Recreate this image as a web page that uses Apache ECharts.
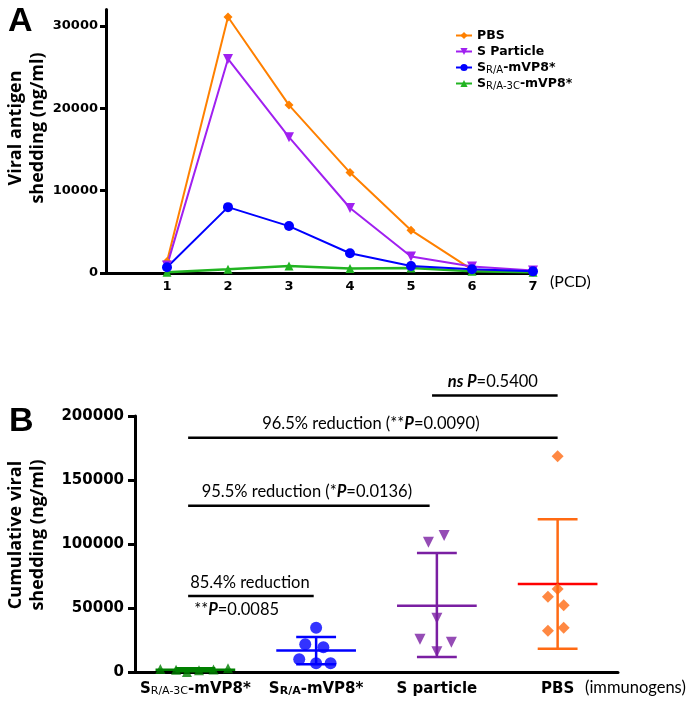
<!DOCTYPE html>
<html><head><meta charset="utf-8">
<script src="https://cdn.jsdelivr.net/npm/echarts@6/dist/echarts.min.js"></script>
<style>html,body{margin:0;padding:0;background:#fff}#c{width:690px;height:702px}</style>
</head><body><div id="c"></div>
<script>
// ---------- Panel A data ----------
const days = [1, 2, 3, 4, 5, 6, 7];
const dayTicks = [1, 2, 3, 4, 5, 6, 7];
const pbsA = [1400, 31100, 20400, 12200, 5200, 400, 200];
const sParticleA = [900, 26000, 16500, 7900, 2000, 800, 300];
const srA = [700, 8000, 5700, 2400, 850, 450, 200];
const sr3cA = [100, 450, 850, 550, 600, 200, 100];
const yTicksA = [0, 10000, 20000, 30000];

// ---------- Panel B data ----------
const groupsB = ['SR/A-3C-mVP8*', 'SR/A-mVP8*', 'S particle', 'PBS'];
const groupLabelsB = ['S{s|R/A-3C}-mVP8*', 'S{sb|R/A}-mVP8*', 'S particle', 'PBS'];
const cumSR3C = [2600, 2000, 300, 1600, 2200, 3200];
const jitSR3C = [-0.29, -0.16, -0.07, 0.03, 0.15, 0.27];
const cumSR = [34800, 21900, 19500, 10200, 7000, 7000];
const jitSR = [0, -0.09, 0.06, -0.14, 0, 0.12];
const cumSP = [101500, 106700, 42200, 25800, 23400, 16100];
const jitSP = [-0.07, 0.06, 0, -0.14, 0.12, 0];
const cumPBS = [168500, 65000, 59000, 52300, 32500, 34800];
const jitPBS = [0, 0, -0.08, 0.05, -0.08, 0.05];
const meanB = [2000, 17000, 52000, 69000];
const sdLoB = [900, 6200, 12000, 18400];
const sdHiB = [3100, 27600, 93000, 119500];
const yTicksB = [0, 50000, 100000, 150000, 200000];

// comparison brackets: start group, end group, height
const bracketFrom = [1.96, -0.06, -0.06, -0.06];
const bracketTo = [3.0, 3.0, 1.94, 0.98];
const bracketY = [216000, 183000, 130000, 59600];

const colA = ['#FF8000', '#A020F0', '#0000FF', '#22B422'];
const colB = ['#008000', '#0000FF', '#7A1FA2', '#FF6A13'];
const meanColB = ['#008000', '#0000FF', '#7A1FA2', '#FF0000'];

const chart = echarts.init(document.getElementById('c'), null, {renderer: 'canvas'});
const tickFont = 'DejaVu Sans';
const annFont = 'Lato';
const plain = v => String(v);

const richSub = {
  s: {fontSize: 10, fontWeight: 'normal', fontFamily: tickFont, verticalAlign: 'bottom', lineHeight: 12},
  sb: {fontSize: 10, fontWeight: 'bold', fontFamily: tickFont, verticalAlign: 'bottom', lineHeight: 12}
};
const legendNames = {
  'PBS': 'PBS',
  'S Particle': 'S Particle',
  'SR/A-mVP8*': 'S{s|R/A}-mVP8*',
  'SR/A-3C-mVP8*': 'S{s|R/A-3C}-mVP8*'
};

function pairs(xs, ys) { return xs.map((x, i) => [x, ys[i]]); }
function jitter(g, jit, vals) { return vals.map((v, i) => [g + jit[i], v]); }

const annTexts = [
  {t: '{bi|ns P}{n|=0.5400}', pos: 'above'},
  {t: '{n|96.5% reduction (**}{bi|P}{n|=0.0090)}', pos: 'above'},
  {t: '{n|95.5% reduction (*}{bi|P}{n|=0.0136)}', pos: 'above'},
  {t: '{n|85.4% reduction}', pos: 'split', t2: '{n|**}{bi|P}{n|=0.0085}'}
];
const annSize = 16.5;
const annRich = {
  n: {fontFamily: annFont, fontSize: annSize, color: '#000'},
  bi: {fontFamily: annFont, fontSize: annSize, fontWeight: 'bold', fontStyle: 'italic', color: '#000'}
};

const option = {
  animation: false,
  backgroundColor: '#fff',
  grid: [
    {left: 106, top: 9.6, width: 427, height: 263.4},
    {left: 135, top: 416, width: 483, height: 256.3}
  ],
  legend: {
    orient: 'vertical', left: 450, top: 23, itemWidth: 16, itemHeight: 9, itemGap: 1,
    data: ['PBS', 'S Particle', 'SR/A-mVP8*', 'SR/A-3C-mVP8*'],
    formatter: n => legendNames[n],
    textStyle: {fontFamily: tickFont, fontWeight: 'bold', fontSize: 12.5, color: '#000', lineHeight: 15, rich: richSub}
  },
  xAxis: [
    {type: 'value', gridIndex: 0, min: 0, max: 7,
      axisLine: {onZero: false, lineStyle: {color: '#000', width: 3}},
      axisTick: {show: false}, splitLine: {show: false},
      axisLabel: {customValues: dayTicks, formatter: plain, margin: 7, color: '#000', fontFamily: tickFont, fontWeight: 'bold', fontSize: 13}},
    {type: 'category', gridIndex: 1, data: groupsB, boundaryGap: true,
      axisLine: {onZero: false, lineStyle: {color: '#000', width: 3}},
      axisTick: {alignWithLabel: true, length: 6, lineStyle: {width: 3, color: '#000'}},
      axisLabel: {interval: 0, formatter: (v, i) => groupLabelsB[i], margin: 9, color: '#000', fontFamily: tickFont, fontWeight: 'bold', fontSize: 15,
        rich: {
          s: {fontSize: 11, fontWeight: 'normal', fontFamily: tickFont, verticalAlign: 'bottom', lineHeight: 14},
          sb: {fontSize: 11, fontWeight: 'bold', fontFamily: tickFont, verticalAlign: 'bottom', lineHeight: 14}
        }}},
    {type: 'value', gridIndex: 1, min: -0.5, max: 3.5, show: false}
  ],
  yAxis: [
    {type: 'value', gridIndex: 0, min: 0, max: 32000,
      axisLine: {show: true, onZero: false, lineStyle: {color: '#000', width: 3}},
      axisTick: {show: true, customValues: yTicksA, length: 6, lineStyle: {width: 3, color: '#000'}},
      splitLine: {show: false},
      axisLabel: {customValues: yTicksA, formatter: plain, margin: 8, color: '#000', fontFamily: tickFont, fontWeight: 'bold', fontSize: 13}},
    {type: 'value', gridIndex: 1, min: 0, max: 200000, interval: 50000,
      axisLine: {show: true, onZero: false, lineStyle: {color: '#000', width: 3}},
      axisTick: {show: true, length: 7, lineStyle: {width: 3, color: '#000'}},
      splitLine: {show: false},
      axisLabel: {formatter: plain, margin: 11, color: '#000', fontFamily: tickFont, fontWeight: 'bold', fontSize: 15}}
  ],
  series: [
    {name: 'PBS', type: 'line', xAxisIndex: 0, yAxisIndex: 0, data: pairs(days, pbsA),
      symbol: 'diamond', symbolSize: 9, color: colA[0], lineStyle: {width: 2}},
    {name: 'S Particle', type: 'line', xAxisIndex: 0, yAxisIndex: 0, data: pairs(days, sParticleA),
      symbol: 'triangle', symbolRotate: 180, symbolSize: 10, color: colA[1], lineStyle: {width: 2}},
    {name: 'SR/A-3C-mVP8*', type: 'line', xAxisIndex: 0, yAxisIndex: 0, data: pairs(days, sr3cA),
      symbol: 'triangle', symbolSize: 9, color: colA[3], lineStyle: {width: 2.5}},
    {name: 'SR/A-mVP8*', type: 'line', xAxisIndex: 0, yAxisIndex: 0, data: pairs(days, srA),
      symbol: 'circle', symbolSize: 10, color: colA[2], lineStyle: {width: 2}},

    {type: 'custom', xAxisIndex: 2, yAxisIndex: 1, z: 2,
      data: meanB.map((m, i) => [i, m, sdLoB[i], sdHiB[i]]),
      renderItem: function (params, api) {
        const i = params.dataIndex;
        const m = api.coord([api.value(0), api.value(1)]);
        const lo = api.coord([api.value(0), api.value(2)]);
        const hi = api.coord([api.value(0), api.value(3)]);
        const w = api.size([1, 0])[0];
        const st = {stroke: colB[i], lineWidth: 2.5};
        return {type: 'group', children: [
          {type: 'line', shape: {x1: m[0], y1: hi[1], x2: m[0], y2: lo[1]}, style: st},
          {type: 'line', shape: {x1: m[0] - w * 0.165, y1: hi[1], x2: m[0] + w * 0.165, y2: hi[1]}, style: st},
          {type: 'line', shape: {x1: m[0] - w * 0.165, y1: lo[1], x2: m[0] + w * 0.165, y2: lo[1]}, style: st},
          {type: 'line', shape: {x1: m[0] - w * 0.33, y1: m[1], x2: m[0] + w * 0.33, y2: m[1]}, style: {stroke: meanColB[i], lineWidth: 2.5}}
        ]};
      }},
    {type: 'scatter', xAxisIndex: 2, yAxisIndex: 1, z: 3, data: jitter(0, jitSR3C, cumSR3C), symbol: 'triangle', symbolSize: 10, color: colB[0]},
    {type: 'scatter', xAxisIndex: 2, yAxisIndex: 1, z: 3, data: jitter(1, jitSR, cumSR), symbol: 'circle', symbolSize: 12, color: colB[1]},
    {type: 'scatter', xAxisIndex: 2, yAxisIndex: 1, z: 3, data: jitter(2, jitSP, cumSP), symbol: 'triangle', symbolRotate: 180, symbolSize: 11, color: colB[2]},
    {type: 'scatter', xAxisIndex: 2, yAxisIndex: 1, z: 3, data: jitter(3, jitPBS, cumPBS), symbol: 'diamond', symbolSize: 12, color: colB[3]},

    {type: 'custom', xAxisIndex: 2, yAxisIndex: 1, clip: false, z: 4,
      data: bracketY.map((y, i) => [bracketFrom[i], bracketTo[i], y]),
      renderItem: function (params, api) {
        const i = params.dataIndex;
        const a = api.coord([api.value(0), api.value(2)]);
        const b = api.coord([api.value(1), api.value(2)]);
        const info = annTexts[i];
        const font = annSize + 'px Lato';
        const children = [{type: 'line', shape: {x1: a[0], y1: a[1], x2: b[0], y2: b[1]}, style: {stroke: '#000', lineWidth: 2.5}}];
        if (info.pos === 'above') {
          children.push({type: 'text', x: (a[0] + b[0]) / 2 - 2, y: a[1] - 14,
            style: {text: info.t, rich: annRich, align: 'center', verticalAlign: 'middle', fill: '#000', font: font}});
        } else {
          children.push({type: 'text', x: a[0] + 2, y: a[1] - 13,
            style: {text: info.t, rich: annRich, align: 'left', verticalAlign: 'middle', fill: '#000', font: font}});
          children.push({type: 'text', x: a[0] + 6, y: a[1] + 14,
            style: {text: info.t2, rich: annRich, align: 'left', verticalAlign: 'middle', fill: '#000', font: font}});
        }
        return {type: 'group', children: children};
      }}
  ],
  graphic: [
    {type: 'text', left: 8, top: 5, style: {text: 'A', font: 'bold 34px "Liberation Sans"', fill: '#000'}},
    {type: 'text', left: 9, top: 405, style: {text: 'B', font: 'bold 34px "Liberation Sans"', fill: '#000'}},
    {type: 'text', x: 27, y: 128, rotation: Math.PI / 2,
      style: {text: 'Viral antigen\nshedding (ng/ml)', font: 'bold 18px "Open Sans"', lineHeight: 22, align: 'center', verticalAlign: 'middle', textAlign: 'center', textVerticalAlign: 'middle', fill: '#000'}},
    {type: 'text', x: 27, y: 535, rotation: Math.PI / 2,
      style: {text: 'Cumulative viral\nshedding (ng/ml)', font: 'bold 18px "Open Sans"', lineHeight: 22, align: 'center', verticalAlign: 'middle', textAlign: 'center', textVerticalAlign: 'middle', fill: '#000'}},
    {type: 'text', x: 550, y: 282, style: {text: '(PCD)', font: '16px Lato', fill: '#000', verticalAlign: 'middle', textVerticalAlign: 'middle'}},
    {type: 'text', x: 585, y: 688, style: {text: '(immunogens)', font: '16.5px Lato', fill: '#000', verticalAlign: 'middle', textVerticalAlign: 'middle'}}
  ]
};
chart.setOption(option);
</script>
</body></html>
